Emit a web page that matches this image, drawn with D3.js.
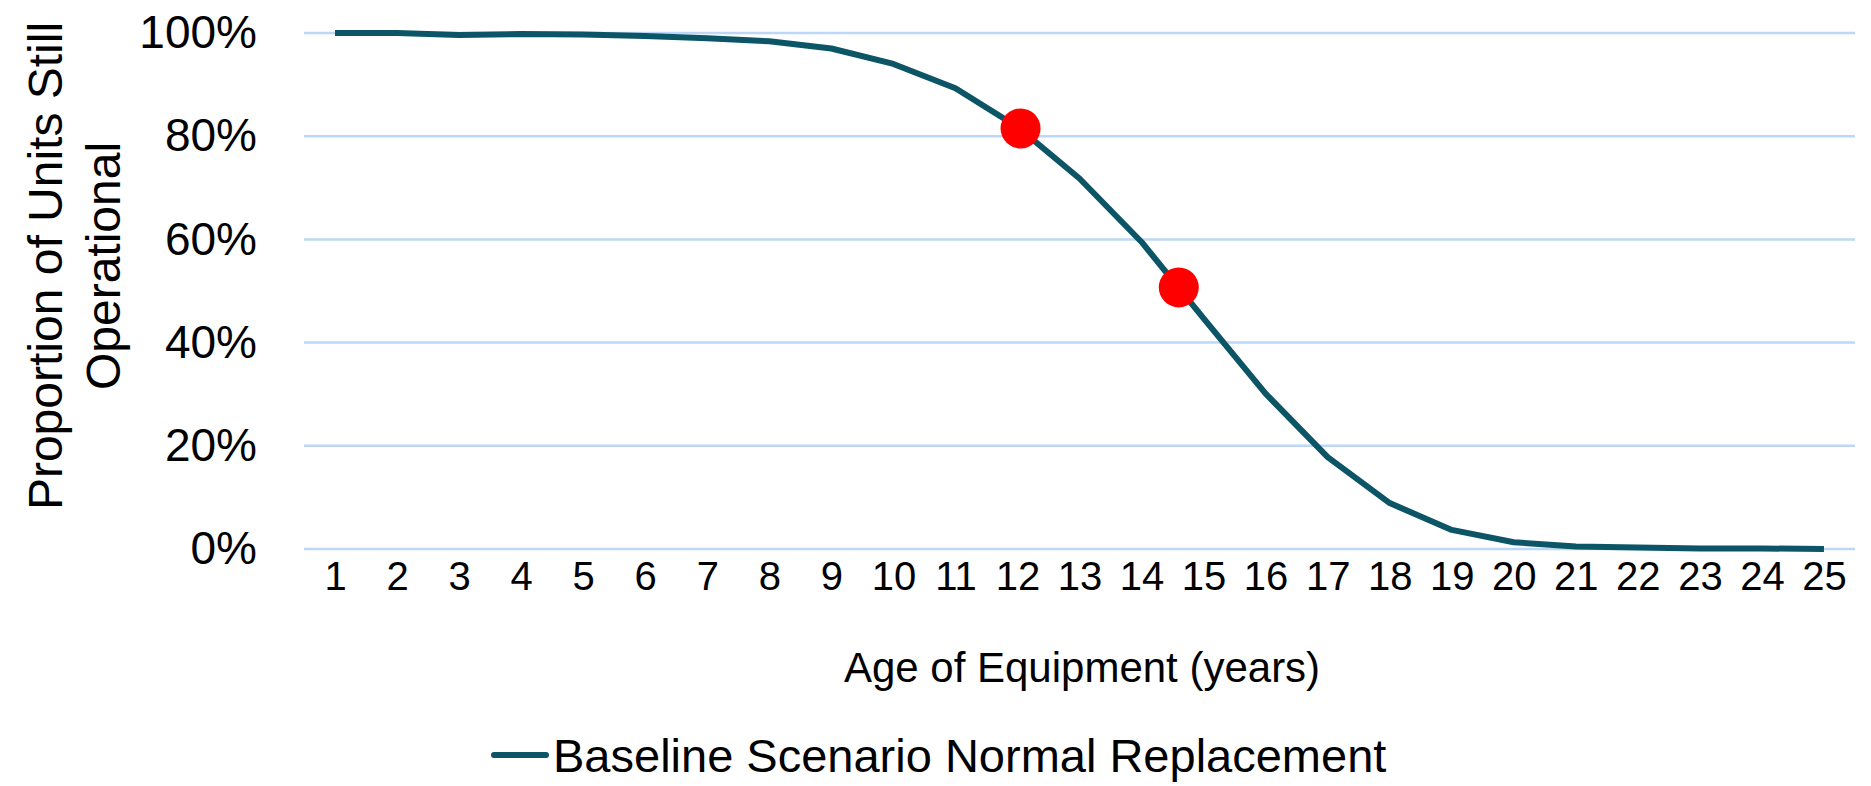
<html>
<head>
  <title>Equipment survival curve</title>
  <script src="https://d3js.org/d3.v7.min.js"></script>
  <style>
    body {
      margin: 0;
      background: #fff;
      font-family: "Liberation Sans", Arial, sans-serif;
    }
    .grid line {
      stroke: #bcd7f7;
      stroke-width: 2.5px;
    }
    .tick text {
      fill: #000;
    }
  </style>
</head>
<body>
  <script>
    // age of equipment in years
    var ages = [1,2,3,4,5,6,7,8,9,10,11,12,13,14,15,16,17,18,19,20,21,22,23,24,25];
    // proportion still operational
    var operational = [1.000,1.000,0.996,0.998,0.997,0.994,0.990,0.984,0.970,0.940,0.893,0.818,0.718,0.595,0.447,0.301,0.178,0.089,0.037,0.013,0.005,0.003,0.001,0.001,0.000];
    // highlighted points
    var markerAges = [12.05, 14.6];
    var markerValues = [0.815, 0.507];
    var yTicks = [0, 0.2, 0.4, 0.6, 0.8, 1];
    var seriesName = "Baseline Scenario Normal Replacement";

    var width = 1871,
        height = 786;

    var plotLeft = 304, plotRight = 1855, plotTop = 33, plotBottom = 549;

    var svg = d3.select( "body" )
      .append( "svg" )
      .attr( "width", width )
      .attr( "height", height );

    var x = d3.scaleLinear()
      .domain( [0.5, 25.5] )
      .range( [plotLeft, plotRight] );

    var y = d3.scaleLinear()
      .domain( [0, 1] )
      .range( [plotBottom, plotTop] );

    // gridlines
    svg.append( "g" )
      .attr( "class", "grid" )
      .selectAll( "line" )
      .data( yTicks )
      .enter()
      .append( "line" )
      .attr( "x1", plotLeft )
      .attr( "x2", plotRight )
      .attr( "y1", function(d) { return y(d); } )
      .attr( "y2", function(d) { return y(d); } );

    // y axis labels
    var yAxis = svg.append( "g" )
      .attr( "transform", "translate(260,0)" )
      .call( d3.axisLeft( y ).tickValues( yTicks ).tickSize( 0 ).tickFormat( d3.format( ".0%" ) ) );
    yAxis.select( ".domain" ).remove();
    yAxis.selectAll( "text" )
      .attr( "font-size", 46 )
      .attr( "font-family", "Liberation Sans, Arial, sans-serif" );

    // x axis labels
    var xAxis = svg.append( "g" )
      .attr( "transform", "translate(0," + (plotBottom + 10) + ")" )
      .call( d3.axisBottom( x ).tickValues( ages ).tickSize( 0 ).tickFormat( d3.format( "d" ) ) );
    xAxis.select( ".domain" ).remove();
    xAxis.selectAll( "text" )
      .attr( "font-size", 40 )
      .attr( "font-family", "Liberation Sans, Arial, sans-serif" );

    // the curve
    var line = d3.line()
      .x( function(d, i) { return x( ages[i] ); } )
      .y( function(d) { return y( d ); } );

    svg.append( "path" )
      .datum( operational )
      .attr( "d", line )
      .attr( "fill", "none" )
      .attr( "stroke", "#0b5566" )
      .attr( "stroke-width", 6 )
      .attr( "stroke-linejoin", "round" );

    // red markers
    svg.selectAll( ".marker" )
      .data( markerAges )
      .enter()
      .append( "circle" )
      .attr( "class", "marker" )
      .attr( "cx", function(d) { return x( d ); } )
      .attr( "cy", function(d, i) { return y( markerValues[i] ); } )
      .attr( "r", 20 )
      .attr( "fill", "#ff0000" );

    // axis titles
    svg.append( "text" )
      .attr( "x", 1082 )
      .attr( "y", 682 )
      .attr( "text-anchor", "middle" )
      .attr( "font-size", 42 )
      .text( "Age of Equipment (years)" );

    var yTitle = svg.append( "text" )
      .attr( "transform", "translate(62,266) rotate(-90)" )
      .attr( "text-anchor", "middle" )
      .attr( "font-size", 48 );
    yTitle.append( "tspan" )
      .attr( "x", 0 )
      .attr( "y", 0 )
      .text( "Proportion of Units Still" );
    yTitle.append( "tspan" )
      .attr( "x", 0 )
      .attr( "y", 58 )
      .text( "Operational" );

    // legend
    var legend = svg.append( "g" )
      .attr( "transform", "translate(494,755)" );
    legend.append( "line" )
      .attr( "x1", 0 )
      .attr( "x2", 52 )
      .attr( "stroke", "#0b5566" )
      .attr( "stroke-width", 6 )
      .attr( "stroke-linecap", "round" );
    legend.append( "text" )
      .attr( "x", 59 )
      .attr( "y", 17 )
      .attr( "font-size", 47 )
      .text( seriesName );
  </script>
</body>
</html>
